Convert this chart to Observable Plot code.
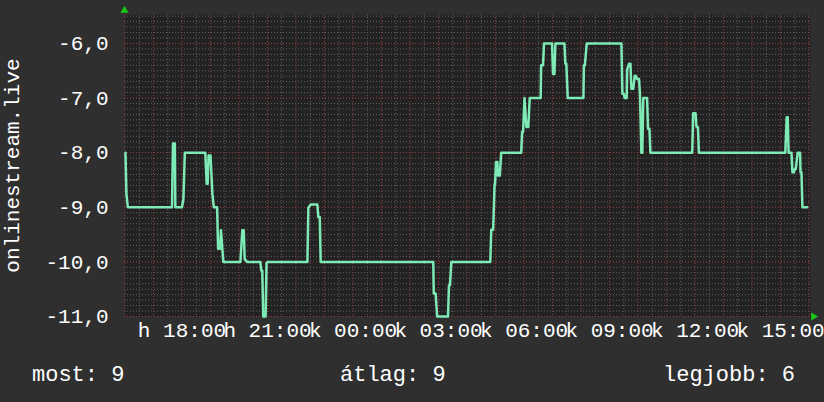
<!DOCTYPE html>
<html>
<head>
<meta charset="utf-8">
<script src="https://cdn.jsdelivr.net/npm/d3@7"></script>
<script src="https://cdn.jsdelivr.net/npm/@observablehq/plot@0.6"></script>
<style>
html, body { margin: 0; padding: 0; background: #2f2f2f; }
#chart { width: 824px; height: 402px; position: relative; overflow: hidden; background: #2f2f2f; }
#chart svg { display: block; overflow: visible; }
</style>
</head>
<body>
<div id="chart"></div>
<script>
// Series: online rank on onlinestream.live (times are local, starting Monday 16:00)
const times = ["16:01","16:03","16:06","17:39","17:41","17:45","17:46","18:00","18:03","18:06",
  "18:49","18:52","18:54","18:56","19:00","19:04","19:07","19:14","19:16","19:20",
  "19:22","19:27","20:03","20:07","20:10","20:12","20:17","20:45","20:47","20:49",
  "20:51","20:56","20:58","21:01","22:24","22:26","22:31","22:45","22:47","22:50",
  "22:52","02:49","02:50","02:54","02:57","03:20","03:22","03:24","03:27","04:49",
  "04:51","04:55","04:58","04:59","05:01","05:04","05:05","05:09","05:12","05:54",
  "05:56","05:58","06:01","06:05","06:09","06:12","06:35","06:36","06:40","06:42",
  "06:59","07:01","07:04","07:06","07:25","07:27","07:29","07:32","08:05","08:06",
  "08:08","08:12","09:25","09:27","09:30","09:32","09:36","09:37","09:41","09:44",
  "09:46","09:50","09:53","09:55","09:58","10:02","10:04","10:07","10:09","10:11",
  "10:19","10:21","10:24","10:26","11:54","11:56","12:01","12:03","12:06","12:08",
  "15:10","15:13","15:15","15:17","15:23","15:25","15:28","15:30","15:32","15:36",
  "15:41","15:42","15:44","15:46","15:56"];
const values = [-8.0,-8.75,-9.0,-9.0,-7.83,-7.83,-9.0,-9.0,-8.85,-8.0,
  -8.0,-8.57,-8.57,-8.05,-8.05,-8.75,-9.0,-9.0,-9.76,-9.76,
  -9.42,-10.0,-10.0,-9.42,-9.42,-9.95,-10.0,-10.0,-10.16,-10.16,
  -11.0,-11.0,-10.02,-10.0,-10.0,-9.01,-8.95,-8.95,-9.18,-9.18,
  -10.0,-10.0,-10.58,-10.58,-11.0,-11.0,-10.43,-10.43,-10.0,-10.0,
  -9.41,-9.41,-8.58,-8.58,-8.17,-8.17,-8.42,-8.42,-8.0,-8.0,
  -7.62,-7.62,-7.0,-7.53,-7.53,-7.0,-7.0,-6.40,-6.40,-6.0,
  -6.0,-6.56,-6.56,-6.0,-6.0,-6.37,-6.37,-7.0,-7.0,-6.4,
  -6.4,-6.0,-6.0,-6.92,-6.92,-7.0,-7.0,-6.48,-6.37,-6.37,
  -6.83,-6.83,-6.59,-6.59,-6.65,-6.65,-6.92,-8.0,-8.0,-7.0,
  -7.0,-7.56,-7.56,-8.0,-8.0,-7.28,-7.28,-7.53,-7.53,-8.0,
  -8.0,-7.35,-7.35,-8.0,-8.0,-8.36,-8.36,-8.30,-8.30,-8.0,
  -8.0,-8.36,-8.36,-9.0,-9.0];

const yTicks = [-11, -10, -9, -8, -7, -6];
const xTickTimes = ["18:00","21:00","00:00","03:00","06:00","09:00","12:00","15:00"];
const xTickLabels = ["h 18:00","h 21:00","k 00:00","k 03:00","k 06:00","k 09:00","k 12:00","k 15:00"];
const yLabel = "onlinestream.live";
const legendItems = ["most: 9", "átlag: 9", "legjobb: 6"];

// helpers: convert HH:MM strings to dates, rolling over to the next day
const start = new Date(2024, 0, 1, 16, 0);
function toDates(list, first) {
  let day = 0, prev = first;
  return list.map(s => {
    const [h, m] = s.split(":").map(Number);
    const mm = h * 60 + m;
    if (mm < prev) day++;
    prev = mm;
    return new Date(2024, 0, 1 + day, h, m);
  });
}
const tDates = toDates(times, 16 * 60);
const data = tDates.map((t, i) => ({t, v: values[i]}));
const xTickDates = toDates(xTickTimes, 16 * 60);

const x0 = new Date(+start - 60e3);
const x1 = new Date(+start + 24 * 3600e3 + 3 * 60e3);

// grid positions
const majorX = d3.range(0, 25).map(h => new Date(+start + h * 3600e3));
const minorX = d3.range(0, 24).map(h => new Date(+start + (h + 0.5) * 3600e3));
const majorY = yTicks;
const minorY = d3.range(-110, -54).filter(k => k % 10 !== 0).map(k => k / 10);

const FONT = "Liberation Mono, DejaVu Sans Mono, monospace";

const plot = Plot.plot({
  width: 824,
  height: 350,
  marginLeft: 124,
  marginRight: 14,
  marginTop: 14,
  marginBottom: 34,
  style: {background: "transparent", color: "#ffffff", fontFamily: FONT, fontSize: "21px", overflow: "visible"},
  x: {type: "time", domain: [x0, x1]},
  y: {domain: [-11, -5.47]},
  marks: [
    Plot.frame({fill: "#222222", stroke: null}),
    Plot.ruleY(minorY, {stroke: "#616161", strokeDasharray: "1,2", strokeWidth: 1}),
    Plot.ruleX(minorX, {stroke: "#616161", strokeDasharray: "1,2", strokeWidth: 1}),
    Plot.ruleY(majorY, {stroke: "#9a4040", strokeDasharray: "1,2", strokeWidth: 1}),
    Plot.ruleX(majorX, {stroke: "#9a4040", strokeDasharray: "1,2", strokeWidth: 1}),
    Plot.axisY(yTicks, {
      tickSize: 0, tickPadding: 16, label: null,
      tickFormat: d => d.toFixed(1).replace(".", ","),
      fontSize: 21, fill: "#ffffff", fontFamily: FONT
    }),
    Plot.axisX(xTickDates, {
      tickSize: 0, tickPadding: 6, label: null,
      tickFormat: (d, i) => xTickLabels[xTickDates.findIndex(e => +e === +d)],
      fontSize: 21, fill: "#ffffff", fontFamily: FONT
    }),
    Plot.line(data, {x: "t", y: "v", stroke: "#7eeab6", strokeWidth: 2.5, curve: "linear"}),
    Plot.text([yLabel], {
      text: d => d, frameAnchor: "left", textAnchor: "middle", rotate: -90, dx: -112,
      fontSize: 21, fill: "#ffffff", fontFamily: FONT
    }),
    Plot.dot([0], {frameAnchor: "top-left", dy: -4, symbol: "triangle", r: 3, fill: "#18c818", stroke: null}),
    Plot.dot([0], {frameAnchor: "bottom-right", dx: 3, symbol: "triangle", r: 3, fill: "#18c818", stroke: null, rotate: 90})
  ]
});
document.getElementById("chart").appendChild(plot);

// legend below the chart
const leg = d3.select("#chart").append("svg")
  .attr("width", 824).attr("height", 52);
const legX = [32, 340, 663];
leg.selectAll("text").data(legendItems).join("text")
  .attr("x", (d, i) => legX[i]).attr("y", 31)
  .attr("fill", "#ffffff")
  .attr("font-family", FONT)
  .attr("font-size", 22)
  .text(d => d);
</script>
</body>
</html>
